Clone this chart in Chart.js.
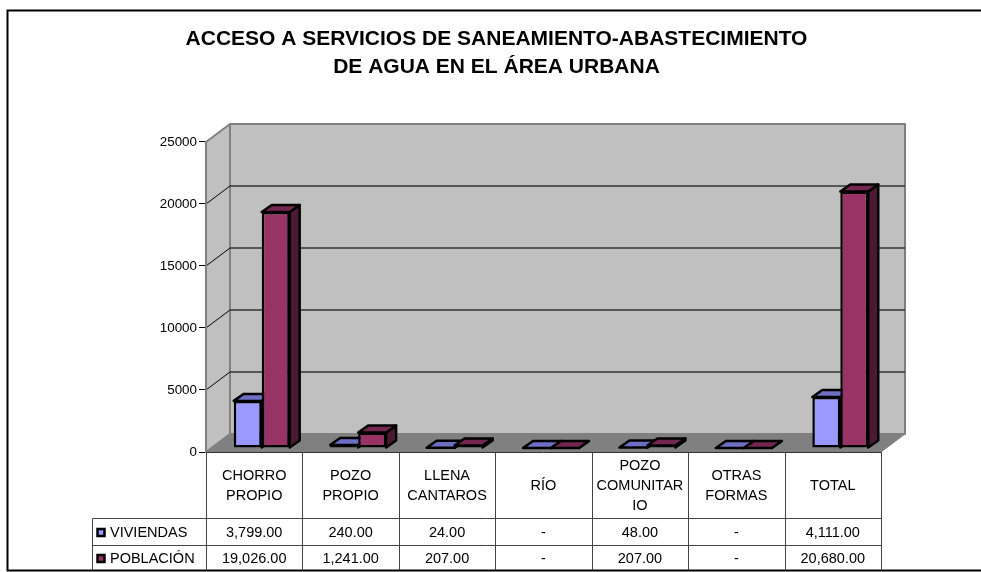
<!DOCTYPE html>
<html lang="es">
<head>
    <meta charset="UTF-8">
    <title>Acceso a servicios de saneamiento</title>
    <style>
        html, body{
            margin: 0;
            padding: 0;
            background-color: #fff;
        }
        canvas{
            display: block;
        }
    </style>
</head>
<body>
    <canvas id="diagrama" width="981" height="572"></canvas>
    <script src="https://cdn.jsdelivr.net/npm/chart.js"></script>
    <script>
        const categorias = [
            ['CHORRO', 'PROPIO'],
            ['POZO', 'PROPIO'],
            ['LLENA', 'CANTAROS'],
            ['RÍO'],
            ['POZO', 'COMUNITAR', 'IO'],
            ['OTRAS', 'FORMAS'],
            ['TOTAL']
        ];
        const viviendas = [3799, 240, 24, 0, 48, 0, 4111];
        const poblacion = [19026, 1241, 207, 0, 207, 0, 20680];
        const titulo = [
            'ACCESO A SERVICIOS DE SANEAMIENTO-ABASTECIMIENTO',
            'DE AGUA EN EL ÁREA URBANA'
        ];

        const fuente = '"Liberation Sans", Arial, sans-serif';

        // profundidad del fondo y de las barras (efecto 3D)
        const fondoX = 24, fondoY = -18;
        const barraDX = 7.5, barraDY = -4;
        const profX = 10, profY = -7;

        const caras = [
            {arriba: '#6E6EC4', lado: '#4D4D80'},
            {arriba: '#732650', lado: '#4A1A35'}
        ];

        function poligono(ctx, puntos, relleno, linea, grosor) {
            ctx.beginPath();
            puntos.forEach((p, i) => i ? ctx.lineTo(p[0], p[1]) : ctx.moveTo(p[0], p[1]));
            ctx.closePath();
            ctx.fillStyle = relleno;
            ctx.fill();
            ctx.strokeStyle = linea;
            ctx.lineWidth = grosor;
            ctx.lineJoin = 'round';
            ctx.stroke();
        }

        function linea(ctx, x1, y1, x2, y2, color, grosor) {
            ctx.beginPath();
            ctx.moveTo(x1, y1);
            ctx.lineTo(x2, y2);
            ctx.strokeStyle = color;
            ctx.lineWidth = grosor;
            ctx.stroke();
        }

        function formato(v) {
            if (v === 0) return '-';
            return v.toLocaleString('en-US', {minimumFractionDigits: 2, maximumFractionDigits: 2});
        }

        const paredes = {
            id: 'paredes',
            afterLayout(chart) {
                // el titulo del original no esta centrado en el lienzo
                chart.titleBlock.left += 56;
                chart.titleBlock.right += 56;
            },
            beforeDraw(chart) {
                const ctx = chart.ctx;
                const a = chart.chartArea;
                const y = chart.scales.y;
                ctx.save();

                // marco
                ctx.beginPath();
                ctx.moveTo(981, 10.5);
                ctx.lineTo(7.5, 10.5);
                ctx.lineTo(7.5, 570.5);
                ctx.lineTo(981, 570.5);
                ctx.strokeStyle = '#000';
                ctx.lineWidth = 2;
                ctx.stroke();

                // piso
                poligono(ctx, [
                    [a.left, a.bottom], [a.left + fondoX, a.bottom + fondoY],
                    [a.right + fondoX, a.bottom + fondoY], [a.right, a.bottom]
                ], '#808080', '#808080', 1);
                // pared lateral
                poligono(ctx, [
                    [a.left, a.top], [a.left + fondoX, a.top + fondoY],
                    [a.left + fondoX, a.bottom + fondoY], [a.left, a.bottom]
                ], '#C0C0C0', '#808080', 2);
                // pared de fondo
                poligono(ctx, [
                    [a.left + fondoX, a.top + fondoY], [a.right + fondoX, a.top + fondoY],
                    [a.right + fondoX, a.bottom + fondoY], [a.left + fondoX, a.bottom + fondoY]
                ], '#C0C0C0', '#808080', 2);

                // lineas de division
                y.ticks.forEach(t => {
                    const py = y.getPixelForValue(t.value);
                    if (t.value === 0 || t.value === y.max) return;
                    linea(ctx, a.left, py, a.left + fondoX, py + fondoY, '#000', 1);
                    linea(ctx, a.left + fondoX, py + fondoY, a.right + fondoX, py + fondoY, '#333', 1.3);
                });
                ctx.restore();
            },
            beforeDatasetsDraw(chart) {
                const ctx = chart.ctx;
                ctx.save();
                ctx.translate(barraDX, barraDY);
                // caras superior y lateral, las frentes las dibuja Chart.js encima
                categorias.forEach((c, j) => {
                    chart.data.datasets.forEach((d, i) => {
                        const b = chart.getDatasetMeta(i).data[j];
                        const izq = b.x - b.width / 2;
                        const der = b.x + b.width / 2;
                        poligono(ctx, [
                            [der, b.base], [der + profX, b.base + profY],
                            [der + profX, b.y + profY], [der, b.y]
                        ], caras[i].lado, '#000', 2.5);
                        poligono(ctx, [
                            [izq, b.y], [izq + profX, b.y + profY],
                            [der + profX, b.y + profY], [der, b.y]
                        ], caras[i].arriba, '#000', 2.5);
                    });
                });
            },
            afterDatasetsDraw(chart) {
                chart.ctx.restore();
            },
            afterDraw(chart) {
                // tabla de datos
                const ctx = chart.ctx;
                const a = chart.chartArea;
                const x = chart.scales.x;
                const filas = [518.5, 545.5];
                const izqTabla = 92.5;
                const abajo = 570;
                const ancho = (a.right - a.left) / categorias.length;
                ctx.save();

                linea(ctx, a.left, a.bottom + 0.5, a.right, a.bottom + 0.5, '#333', 1);
                filas.forEach(f => linea(ctx, izqTabla, f, a.right, f, '#444', 1));
                linea(ctx, izqTabla, filas[0], izqTabla, abajo, '#444', 1);
                for (let i = 0; i <= categorias.length; i++) {
                    const px = Math.round(a.left + ancho * i) + 0.5;
                    linea(ctx, px, a.bottom, px, abajo, '#444', 1);
                }

                ctx.font = '14.5px ' + fuente;
                ctx.textBaseline = 'middle';
                chart.data.datasets.forEach((d, i) => {
                    const centro = i === 0 ? 532.5 : 558.5;
                    ctx.textAlign = 'center';
                    ctx.fillStyle = '#000';
                    d.data.forEach((v, j) => {
                        ctx.fillText(formato(v), x.getPixelForValue(j), centro);
                    });
                    // clave de la serie
                    ctx.fillStyle = d.backgroundColor;
                    ctx.strokeStyle = '#000';
                    ctx.lineWidth = 2.5;
                    ctx.fillRect(97.5, centro - 3.5, 7, 7);
                    ctx.strokeRect(97.5, centro - 3.5, 7, 7);
                    ctx.fillStyle = '#000';
                    ctx.textAlign = 'left';
                    ctx.fillText(d.label, 110, centro);
                });
                ctx.restore();
            }
        };

        new Chart(document.getElementById('diagrama'), {
            type: 'bar',
            data: {
                labels: categorias,
                datasets: [
                    {
                        label: 'VIVIENDAS',
                        data: viviendas,
                        backgroundColor: '#9999FF',
                        borderColor: '#000',
                        borderWidth: 2.5,
                        borderSkipped: false,
                        clip: false
                    },
                    {
                        label: 'POBLACIÓN',
                        data: poblacion,
                        backgroundColor: '#993366',
                        borderColor: '#000',
                        borderWidth: 2.5,
                        borderSkipped: false,
                        clip: false
                    }
                ]
            },
            options: {
                responsive: false,
                animation: false,
                layout: {padding: {left: 0, right: 100, top: 0, bottom: 0}},
                categoryPercentage: 0.58,
                barPercentage: 1,
                plugins: {
                    legend: {display: false},
                    tooltip: {enabled: false},
                    title: {
                        display: true,
                        text: titulo,
                        color: '#000',
                        font: {family: fuente, size: 21, weight: 'bold', lineHeight: 1.333},
                        padding: {top: 25, bottom: 61}
                    }
                },
                scales: {
                    x: {
                        afterFit(s) { s.height = 120; },
                        grid: {display: false, drawTicks: false},
                        border: {display: false},
                        ticks: {
                            color: '#000',
                            font: {family: fuente, size: 14.5, lineHeight: 1.38},
                            autoSkip: false,
                            maxRotation: 0,
                            minRotation: 0,
                            crossAlign: 'center',
                            padding: 14
                        }
                    },
                    y: {
                        min: 0,
                        max: 25000,
                        afterFit(s) { s.width = 206; },
                        grid: {drawOnChartArea: false, drawTicks: true, tickLength: 7, tickColor: '#000'},
                        border: {display: true, color: '#808080', width: 2},
                        ticks: {
                            stepSize: 5000,
                            format: {useGrouping: false},
                            color: '#000',
                            font: {family: fuente, size: 13.4},
                            padding: 2
                        }
                    }
                }
            },
            plugins: [paredes]
        });
    </script>
</body>
</html>
